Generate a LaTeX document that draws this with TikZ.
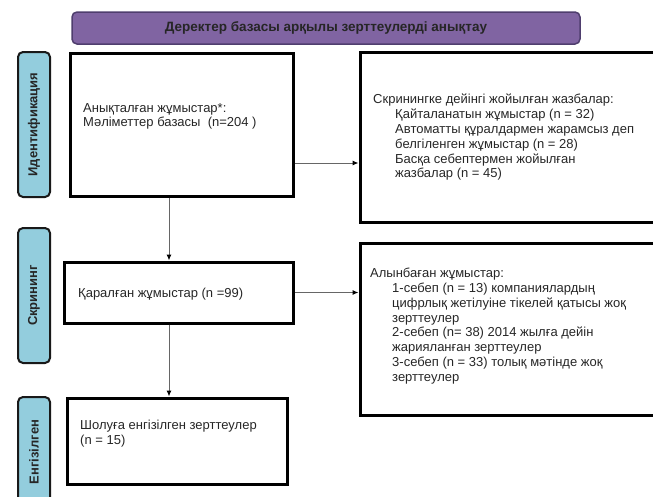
\documentclass[tikz,border=0pt]{standalone}
\usepackage{fontspec}
\setmainfont{Liberation Sans}
\usetikzlibrary{arrows.meta}
\definecolor{titlepurple}{HTML}{8064A2}
\definecolor{titleedge}{HTML}{4F3E6E}
\definecolor{sideblue}{HTML}{93CDDD}
\definecolor{textgray}{HTML}{262626}
\begin{document}
\begin{tikzpicture}[x=1pt,y=-1pt]
  \tikzstyle{stage}=[draw=black!90,fill=sideblue,rounded corners=5pt,line width=2pt,minimum width=32pt,inner sep=0pt,font=\fontsize{13}{15}\selectfont\bfseries,text=textgray]
  \tikzstyle{box}=[draw=black,line width=3pt,inner sep=0pt]
  \tikzstyle{txt}=[anchor=north west,align=left,inner sep=0pt,text=textgray,font=\fontsize{13}{14.8}\selectfont]
  \tikzstyle{line}=[draw=black!60,line width=1pt,-{Latex[length=6pt,width=5pt,color=black]}]
  \clip (0,0) rectangle (653,496);
  % title bar
  \node[draw=titleedge,fill=titlepurple,rounded corners=5pt,line width=1.5pt,minimum width=508pt,minimum height=32pt,font=\fontsize{13.5}{15}\selectfont\bfseries,text=textgray] (title) at (326,28) {Деректер базасы арқылы зерттеулерді анықтау};
  % stages
  \node[stage,minimum height=145pt] (ident) at (34,124.5) {\rotatebox{90}{Идентификация}};
  \node[stage,minimum height=135pt] (screen) at (34,295.5) {\rotatebox{90}{Скрининг}};
  \node[stage,minimum height=110pt] (incl) at (34,452) {\rotatebox{90}{Енгізілген}};
  % boxes
  \node[box,minimum width=223pt,minimum height=143pt] (found) at (181.5,124.5) {};
  \node[box,minimum width=298pt,minimum height=170pt] (removed) at (509,137) {};
  \node[box,minimum width=229pt,minimum height=61pt] (viewed) at (178.5,292.5) {};
  \node[box,minimum width=296pt,minimum height=172pt] (excluded) at (508,329) {};
  \node[box,minimum width=220pt,minimum height=86pt] (review) at (177,441) {};
  % texts
  \node[txt] (foundtxt) at (83,103) {Анықталған жұмыстар*:\\Мәліметтер базасы~~(n=204 )};
  \node[txt] (removedtxt) at (373,94) {Скринингке дейінгі жойылған жазбалар:\\
    \hspace*{22pt}Қайталанатын жұмыстар (n = 32)\\
    \hspace*{22pt}Автоматты құралдармен жарамсыз деп\\
    \hspace*{22pt}белгіленген жұмыстар (n = 28)\\
    \hspace*{22pt}Басқа себептермен жойылған\\
    \hspace*{22pt}жазбалар (n = 45)};
  \node[txt] (viewedtxt) at (78,288) {Қаралған жұмыстар (n =99)};
  \node[txt] (excludedtxt) at (370,268) {Алынбаған жұмыстар:\\
    \hspace*{22pt}1-себеп (n = 13) компаниялардың\\
    \hspace*{22pt}цифрлық жетілуіне тікелей қатысы жоқ\\
    \hspace*{22pt}зерттеулер\\
    \hspace*{22pt}2-себеп (n= 38) 2014 жылға дейін\\
    \hspace*{22pt}жарияланған зерттеулер\\
    \hspace*{22pt}3-себеп (n = 33) толық мәтінде жоқ\\
    \hspace*{22pt}зерттеулер};
  \node[txt] (reviewtxt) at (80,420) {Шолуға енгізілген зерттеулер\\(n = 15)};
  % connectors
  \coordinate (down) at (169,0);
  \coordinate (side) at (0,163);
  \draw[line] (found.south -| down) -- (viewed.north -| down);
  \draw[line] (viewed.south -| down) -- (review.north -| down);
  \draw[line] (found.east |- side) -- (removed.west |- side);
  \draw[line] (viewed.east) -- (viewed.east -| excluded.west);
\end{tikzpicture}
\end{document}
